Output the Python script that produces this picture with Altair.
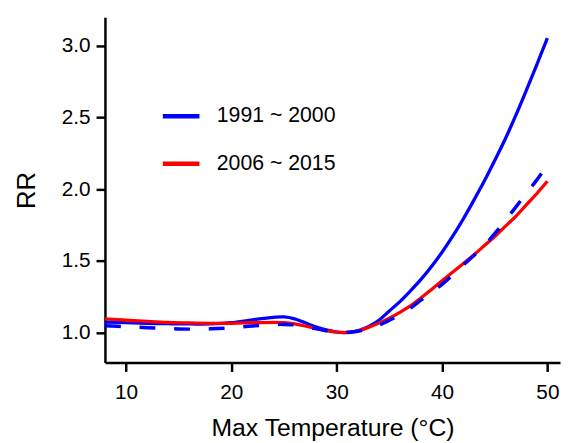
import altair as alt
import pandas as pd

temps = [8, 10, 12, 14, 16, 18, 20, 22, 24, 25, 26, 28, 29, 30, 31, 32, 33, 34, 35, 36, 37, 38, 39, 40,
         41, 42, 43, 44, 45, 46, 47, 48, 49, 50]
rr_1991 = [1.072, 1.068, 1.064, 1.061, 1.059, 1.060, 1.068, 1.088, 1.105, 1.108, 1.095, 1.040, 1.018, 1.003,
           1.000, 1.012, 1.040, 1.085, 1.150, 1.215, 1.290, 1.370, 1.460, 1.560, 1.670, 1.790, 1.920, 2.055,
           2.200, 2.350, 2.515, 2.690, 2.870, 3.055]
rr_2006 = [1.094, 1.085, 1.077, 1.070, 1.066, 1.064, 1.064, 1.068, 1.071, 1.069, 1.060, 1.028, 1.013, 1.002,
           1.000, 1.010, 1.035, 1.065, 1.100, 1.140, 1.185, 1.240, 1.300, 1.360, 1.420, 1.480, 1.540, 1.605,
           1.670, 1.740, 1.810, 1.890, 1.970, 2.055]
rr_1991_dash = [1.046, 1.040, 1.033, 1.027, 1.023, 1.025, 1.032, 1.045, 1.055, 1.056, 1.052, 1.027, 1.012,
                1.002, 1.000, 1.008, 1.025, 1.050, 1.085, 1.125, 1.170, 1.225, 1.280, 1.335, 1.400, 1.470,
                1.535, 1.605, 1.690, 1.780, 1.875, 1.970, 2.065, 2.167]
series_names = ["1991 ~ 2000", "2006 ~ 2015"]
series_colors = ["#0000FF", "#FF0000"]
x_ticks = [10, 20, 30, 40, 50]
y_ticks = [1.0, 1.5, 2.0, 2.5, 3.0]

n = len(temps)
solid = pd.DataFrame({
    "T": temps + temps,
    "RR": rr_1991 + rr_2006,
    "series": [series_names[0]] * n + [series_names[1]] * n,
})
dashed = pd.DataFrame({"T": temps, "RR": rr_1991_dash})

FONT = "Liberation Sans"

x = alt.X("T:Q", scale=alt.Scale(domain=[8, 51.2], nice=False, zero=False),
          axis=alt.Axis(values=x_ticks, title="Max Temperature (°C)", labelPadding=10, titlePadding=14,
                        titleFontSize=25))
y = alt.Y("RR:Q", scale=alt.Scale(domain=[0.79, 3.2], nice=False, zero=False),
          axis=alt.Axis(values=y_ticks, format=".1f", title="RR", labelPadding=6, titlePadding=22))

lines = alt.Chart(solid).mark_line(strokeWidth=3.3, interpolate="catmull-rom").encode(
    x=x, y=y,
    color=alt.Color("series:N", scale=alt.Scale(domain=series_names, range=series_colors),
                    legend=alt.Legend(title=None, orient="none", legendX=56, legendY=79,
                                      symbolType="stroke", symbolSize=1369, symbolStrokeWidth=4.5,
                                      labelFontSize=21.5, labelOffset=15, rowPadding=16, padding=0,
                                      labelFont=FONT, labelColor="black")),
)

dash_line = alt.Chart(dashed).mark_line(strokeWidth=3.5, color="#0000FF", strokeDash=[16, 19],
                                        interpolate="catmull-rom").encode(x=x, y=y)

chart = alt.layer(lines, dash_line).properties(
    width=460, height=349,
    autosize=alt.AutoSizeParams(type="none"),
    padding={"left": 98, "top": 7, "right": 2, "bottom": 79},
).configure_view(stroke=None).configure_axis(
    grid=False, domainColor="black", domainWidth=2.5, tickColor="black", tickWidth=2.5, tickSize=9,
    labelFontSize=21, labelColor="black", labelFont=FONT,
    titleFontSize=26, titleFontWeight="normal", titleColor="black", titleFont=FONT,
)

chart.save("out.html", embed_options={"renderer": "svg", "actions": False})
